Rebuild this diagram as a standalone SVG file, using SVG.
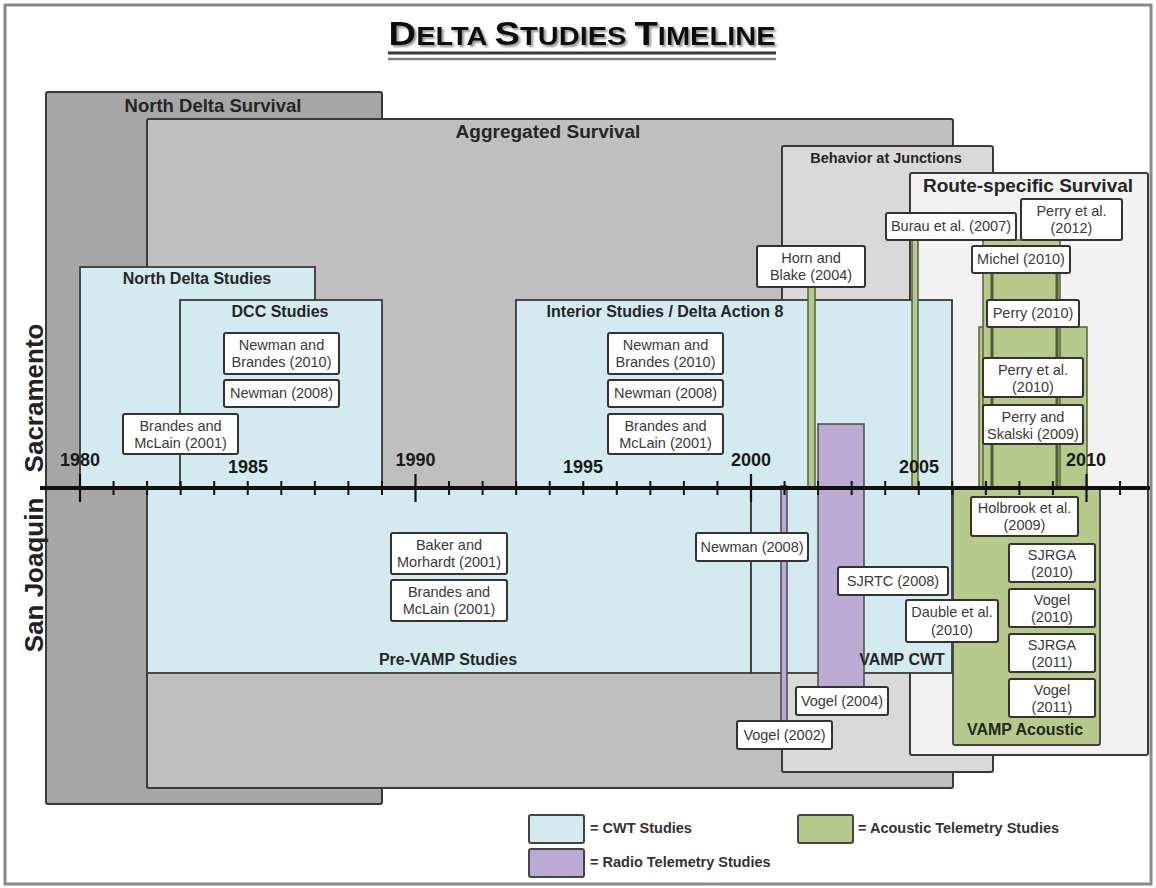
<svg xmlns="http://www.w3.org/2000/svg" width="1156" height="888" viewBox="0 0 1156 888">
<defs>
<style>
text{font-family:"Liberation Sans",Arial,sans-serif}
.reg{stroke:#3a3a3a;stroke-width:2}
.nds{fill:#a6a6a6}
.ags{fill:#bfbfbf}
.bj{fill:#d9d9d9}
.rs{fill:#f2f2f2}
.cwt{fill:#d3eaf1;stroke:#3a3a3a;stroke-width:1.8}
.ac{fill:#b5ca8a;stroke:#55643c;stroke-width:1.5}
.acb{fill:#b5ca8a;stroke:#404040;stroke-width:1.8}
.rad{fill:#bdaad3;stroke:#4a4a4a;stroke-width:1.5}
.box{fill:#fff;stroke:#333;stroke-width:2}
.bt{font-size:14.5px;fill:#3a3a3a;text-anchor:middle}
.hd{font-weight:bold;fill:#262626;text-anchor:middle}
.yr{font-size:18px;font-weight:bold;fill:#1a1a1a;text-anchor:middle}
.lg{font-size:14.5px;font-weight:bold;fill:#333}
.side{font-size:26px;font-weight:bold;fill:#222;text-anchor:middle}
</style>
<filter id="sh" x="-5%" y="-20%" width="110%" height="150%">
<feDropShadow dx="2" dy="2" stdDeviation="1" flood-color="#777" flood-opacity="0.8"/>
</filter>
</defs>
<rect x="0" y="0" width="1156" height="888" fill="#fff"/>
<rect x="5" y="5" width="1146" height="879" fill="none" stroke="#8a8a8a" stroke-width="3"/>

<g id="title">
<text x="582" y="45" text-anchor="middle" font-weight="bold" fill="#111" textLength="387" lengthAdjust="spacingAndGlyphs" filter="url(#sh)"><tspan font-size="33">D</tspan><tspan font-size="25">ELTA </tspan><tspan font-size="33">S</tspan><tspan font-size="25">TUDIES </tspan><tspan font-size="33">T</tspan><tspan font-size="25">IMELINE</tspan></text>
<line x1="388" y1="53" x2="776" y2="53" stroke="#3a3a3a" stroke-width="3"/>
<line x1="388" y1="59" x2="776" y2="59" stroke="#808080" stroke-width="2.5"/>
</g>

<g id="north-delta-survival"><rect class="reg nds" x="46" y="92" width="336" height="712" rx="2"/><text class="hd" x="213" y="112" font-size="18.5">North Delta Survival</text></g>
<g id="aggregated-survival"><rect class="reg ags" x="147" y="119" width="806" height="669" rx="2"/><text class="hd" x="548" y="138" font-size="19">Aggregated Survival</text></g>
<g id="behavior-at-junctions"><rect class="reg bj" x="782" y="146" width="211" height="626" rx="2"/><text class="hd" x="886" y="163" font-size="14.5">Behavior at Junctions</text></g>
<g id="route-specific-survival"><rect class="reg rs" x="910" y="173" width="238" height="582" rx="2"/><text class="hd" x="1028" y="192" font-size="19">Route-specific Survival</text></g>

<g id="north-delta-studies"><rect class="cwt" x="80" y="267" width="235" height="221"/><text class="hd" x="197" y="284" font-size="16">North Delta Studies</text></g>
<g id="dcc-studies"><rect class="cwt" x="180" y="300" width="202" height="188"/><text class="hd" x="280" y="317" font-size="16">DCC Studies</text></g>
<g id="interior-studies"><rect class="cwt" x="516" y="300" width="436" height="188"/><text class="hd" x="665" y="317" font-size="16">Interior Studies / Delta Action 8</text></g>
<g id="pre-vamp-studies"><rect class="cwt" x="147" y="488" width="604" height="185"/><text class="hd" x="448" y="665" font-size="16">Pre-VAMP Studies</text></g>
<g id="vamp-cwt"><rect class="cwt" x="751" y="488" width="201" height="185"/></g>
<g id="vamp-acoustic"><rect class="acb" x="953" y="488" width="147" height="257" rx="2"/><text class="hd" x="1025" y="735" font-size="16">VAMP Acoustic</text></g>

<g id="connectors">
<rect class="ac" x="808" y="287" width="7" height="201"/>
<rect class="ac" x="912" y="240" width="6" height="248"/>
<rect class="ac" x="979" y="327" width="108" height="161"/>
<rect class="ac" x="983" y="240" width="77" height="248"/>
<rect x="992" y="272" width="65" height="216" fill="#b5ca8a" stroke="#4f5d36" stroke-width="3"/>
<rect class="rad" x="818" y="424" width="46" height="263"/>
<rect class="rad" x="781" y="486" width="6" height="235"/>
</g>

<g id="vamp-cwt-label"><text class="hd" x="902" y="665" font-size="16">VAMP CWT</text></g>

<g id="axis" stroke="#111">
<line x1="40" y1="488" x2="1150" y2="488" stroke-width="4"/>
<path stroke-width="2.2" d="M80 474V502M415.5 474V502M751 474V502M1086.5 474V502"/>
<path stroke-width="2" d="M113.55 481V495M147.1 481V495M180.65 481V495M214.2 481V495M247.75 481V495M281.3 481V495M314.85 481V495M348.4 481V495M381.95 481V495M449.05 481V495M482.6 481V495M516.15 481V495M549.7 481V495M583.25 481V495M616.8 481V495M650.35 481V495M683.9 481V495M717.45 481V495M784.55 481V495M818.1 481V495M851.65 481V495M885.2 481V495M918.75 481V495M952.3 481V495M985.85 481V495M1019.4 481V495M1052.95 481V495M1120.05 481V495"/>
</g>

<g id="years">
<text class="yr" x="80" y="466">1980</text>
<text class="yr" x="248" y="473">1985</text>
<text class="yr" x="415.5" y="466">1990</text>
<text class="yr" x="583" y="473">1995</text>
<text class="yr" x="751" y="466">2000</text>
<text class="yr" x="919" y="473">2005</text>
<text class="yr" x="1086" y="466">2010</text>
</g>

<g id="side-labels">
<text class="side" transform="translate(43,398) rotate(-90)">Sacramento</text>
<text class="side" transform="translate(43,575) rotate(-90)">San Joaquin</text>
</g>

<g id="horn-blake-2004"><rect class="box" x="757" y="246" width="108" height="41" rx="2"/><text class="bt" x="811" y="263">Horn and<tspan x="811" dy="17">Blake (2004)</tspan></text></g>
<g id="burau-2007"><rect class="box" x="886" y="213" width="130" height="27" rx="2"/><text class="bt" x="951" y="231">Burau et al. (2007)</text></g>
<g id="perry-2012"><rect class="box" x="1021" y="199" width="101" height="41" rx="2"/><text class="bt" x="1071.5" y="216">Perry et al.<tspan x="1071.5" dy="17">(2012)</tspan></text></g>
<g id="michel-2010"><rect class="box" x="972" y="246" width="98" height="27" rx="2"/><text class="bt" x="1021" y="264">Michel (2010)</text></g>
<g id="perry-2010"><rect class="box" x="987" y="300" width="92" height="27" rx="2"/><text class="bt" x="1033" y="318">Perry (2010)</text></g>
<g id="perry-etal-2010"><rect class="box" x="983" y="358" width="100" height="39" rx="2"/><text class="bt" x="1033" y="375">Perry et al.<tspan x="1033" dy="17">(2010)</tspan></text></g>
<g id="perry-skalski-2009"><rect class="box" x="983" y="405" width="100" height="39" rx="2"/><text class="bt" x="1033" y="422">Perry and<tspan x="1033" dy="17">Skalski (2009)</tspan></text></g>

<g id="dcc-newman-brandes"><rect class="box" x="224" y="333" width="115" height="41" rx="2"/><text class="bt" x="281.5" y="350">Newman and<tspan x="281.5" dy="17">Brandes (2010)</tspan></text></g>
<g id="dcc-newman"><rect class="box" x="224" y="380" width="115" height="27" rx="2"/><text class="bt" x="281.5" y="398">Newman (2008)</text></g>
<g id="nd-brandes-mclain"><rect class="box" x="123" y="414" width="115" height="40" rx="2"/><text class="bt" x="180.5" y="431">Brandes and<tspan x="180.5" dy="17">McLain (2001)</tspan></text></g>

<g id="int-newman-brandes"><rect class="box" x="608" y="333" width="115" height="41" rx="2"/><text class="bt" x="665.5" y="350">Newman and<tspan x="665.5" dy="17">Brandes (2010)</tspan></text></g>
<g id="int-newman"><rect class="box" x="608" y="380" width="115" height="27" rx="2"/><text class="bt" x="665.5" y="398">Newman (2008)</text></g>
<g id="int-brandes-mclain"><rect class="box" x="608" y="414" width="115" height="40" rx="2"/><text class="bt" x="665.5" y="431">Brandes and<tspan x="665.5" dy="17">McLain (2001)</tspan></text></g>

<g id="baker-morhardt"><rect class="box" x="391" y="533" width="116" height="41" rx="2"/><text class="bt" x="449" y="550">Baker and<tspan x="449" dy="17">Morhardt (2001)</tspan></text></g>
<g id="pre-brandes-mclain"><rect class="box" x="391" y="580" width="116" height="41" rx="2"/><text class="bt" x="449" y="597">Brandes and<tspan x="449" dy="17">McLain (2001)</tspan></text></g>

<g id="newman-2008-sj"><rect class="box" x="696" y="533" width="112" height="28" rx="2"/><text class="bt" x="752" y="552">Newman (2008)</text></g>
<g id="sjrtc-2008"><rect class="box" x="838" y="567" width="110" height="28" rx="2"/><text class="bt" x="893" y="586">SJRTC (2008)</text></g>
<g id="dauble-2010"><rect class="box" x="906" y="600" width="92" height="42" rx="2"/><text class="bt" x="952" y="617">Dauble et al.<tspan x="952" dy="18">(2010)</tspan></text></g>
<g id="holbrook-2009"><rect class="box" x="971" y="497" width="107" height="39" rx="2"/><text class="bt" x="1024.5" y="513">Holbrook et al.<tspan x="1024.5" dy="17">(2009)</tspan></text></g>
<g id="sjrga-2010"><rect class="box" x="1009" y="544" width="86" height="38" rx="2"/><text class="bt" x="1052" y="560">SJRGA<tspan x="1052" dy="17">(2010)</tspan></text></g>
<g id="vogel-2010"><rect class="box" x="1009" y="589" width="86" height="38" rx="2"/><text class="bt" x="1052" y="605">Vogel<tspan x="1052" dy="17">(2010)</tspan></text></g>
<g id="sjrga-2011"><rect class="box" x="1009" y="634" width="86" height="38" rx="2"/><text class="bt" x="1052" y="650">SJRGA<tspan x="1052" dy="17">(2011)</tspan></text></g>
<g id="vogel-2011"><rect class="box" x="1009" y="679" width="86" height="38" rx="2"/><text class="bt" x="1052" y="695">Vogel<tspan x="1052" dy="17">(2011)</tspan></text></g>
<g id="vogel-2004"><rect class="box" x="796" y="687" width="92" height="28" rx="2"/><text class="bt" x="842" y="706">Vogel (2004)</text></g>
<g id="vogel-2002"><rect class="box" x="737" y="721" width="95" height="28" rx="2"/><text class="bt" x="784.5" y="740">Vogel (2002)</text></g>

<g id="legend">
<rect x="529" y="815" width="55" height="28" rx="2" fill="#d3eaf1" stroke="#444" stroke-width="2"/>
<text class="lg" x="590" y="833">= CWT Studies</text>
<rect x="529" y="849" width="55" height="28" rx="2" fill="#bdaad3" stroke="#444" stroke-width="2"/>
<text class="lg" x="590" y="867">= Radio Telemetry Studies</text>
<rect x="798" y="815" width="55" height="28" rx="2" fill="#b5ca8a" stroke="#444" stroke-width="2"/>
<text class="lg" x="858" y="833">= Acoustic Telemetry Studies</text>
</g>
</svg>
